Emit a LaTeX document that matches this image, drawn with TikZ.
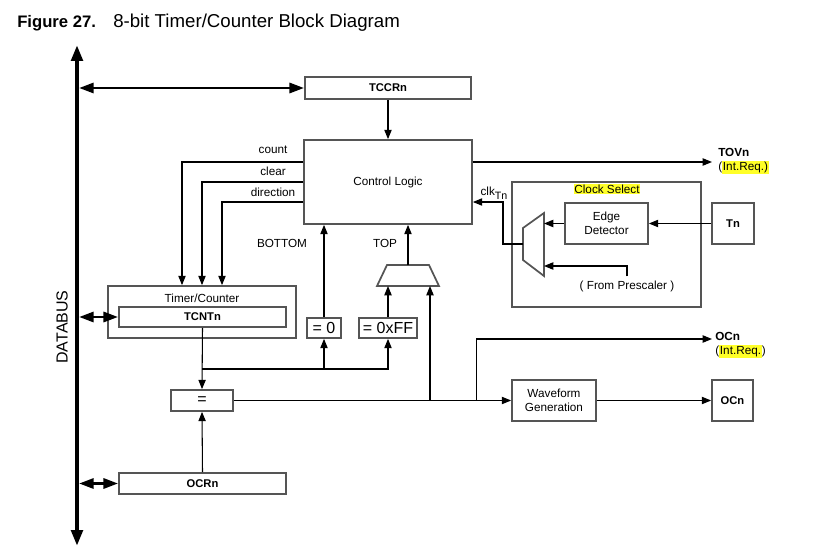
\documentclass[tikz,border=0pt]{standalone}
\usepackage{fontspec}
\setmainfont{Liberation Sans}
\usetikzlibrary{arrows.meta}

\definecolor{boxgray}{RGB}{85,85,85}
\definecolor{hlyellow}{RGB}{255,255,40}
\newcommand{\hlt}[1]{{\setlength{\fboxsep}{0.6pt}\colorbox{hlyellow}{#1}}}

\tikzset{
  every node/.style={font=\fontsize{8.8}{10.2}\selectfont, inner sep=0pt},
  box/.style={draw=boxgray, line width=1.3pt},
  wh/.style 2 args={minimum width=#1*0.75pt, minimum height=#2*0.75pt},
  reg/.style={font=\fontsize{8.4}{10}\selectfont\bfseries},
  big/.style={font=\fontsize{12}{14}\selectfont},
  wire/.style={line width=0.8pt, -{Triangle[length=7pt,width=5.5pt]}},
  bus/.style={line width=3pt, {Triangle[length=12pt,width=8.5pt]}-{Triangle[length=12pt,width=8.5pt]}},
  busarrow/.style={line width=2.2pt, {Triangle[length=11pt,width=7.5pt]}-{Triangle[length=11pt,width=7.5pt]}},
}

\begin{document}
\begin{tikzpicture}[x=0.75pt, y=-0.75pt]
\useasboundingbox (0,0) rectangle (836,560);

\node[anchor=base west, font=\fontsize{12.5}{14}\selectfont\bfseries] (fig) at (17,28) {Figure 27.};
\node[anchor=base west, font=\fontsize{14}{16}\selectfont] (caption) at (113,28) {8-bit Timer/Counter Block Diagram};

% data bus
\coordinate (bustop) at (77,45);
\coordinate (busbot) at (77,546);
\coordinate (busedge) at (79,0);
\draw[bus] (busbot) -- (bustop);
\node[rotate=90, big] (dbus) at (62,327) {DATABUS};

\node[box, wh={166}{22}, reg] (tccr) at (388,88) {TCCRn};
\node[box, wh={168}{84}] (ctrl) at (388,182) {Control Logic};
\node[box, wh={188}{52}] (tc) at (202,312) {};
\node (tclbl) at (202,298) {Timer/Counter};
\node[box, wh={167}{20}, reg] (tcnt) at (202.5,317) {TCNTn};
\node[box, wh={34}{20}, big] (eqz) at (324,328) {= 0};
\node[box, wh={58}{20}, big] (eqff) at (388,328) {= 0xFF};
\node[box, wh={62}{21}, big] (cmp) at (202,400.5) {=};
\node[box, wh={167}{21}, reg] (ocr) at (202.5,483.5) {OCRn};
\node[box, wh={84}{41}, align=center] (wave) at (554,400.5) {Waveform\\Generation};
\node[box, wh={41}{41}, reg] (ocn) at (732.5,400.5) {OCn};

\node[box, wh={189}{125}] (clksel) at (606.5,244.5) {};
\node (clklbl) at (607,189) {\hlt{Clock Select}};
\node[box, wh={83}{41}, align=center] (edgedet) at (606.5,223.5) {Edge\\Detector};
\node[box, wh={42}{41}, reg] (tn) at (733,223.5) {Tn};
\node[inner sep=3pt] (presc) at (627,286) {( From Prescaler )};

% multiplexers
\draw[box] (377,286) -- (387,265) -- (429,265) -- (439,286) -- cycle;
\coordinate (tmT) at (408,265);
\coordinate (tmA) at (388,286);
\coordinate (tmB) at (430,286);
\draw[box] (523,228) -- (544,213) -- (544,276) -- (523,260) -- cycle;
\coordinate (cmL) at (523,244);
\coordinate (cmR) at (544,244);

\draw[busarrow] (busedge |- tccr.west) -- (tccr.west);
\draw[busarrow] (busedge |- tcnt.west) -- (tcnt.west);
\draw[busarrow] (busedge |- ocr.west) -- (ocr.west);

\draw[wire] (tccr.south) -- (ctrl.north);
\draw[wire] ([yshift=15pt]ctrl.west) -| ([xshift=-15pt]tc.north);
\draw[wire] (ctrl.west) -| (tc.north);
\draw[wire] ([yshift=-15pt]ctrl.west) -| ([xshift=15pt]tc.north);
\node (lcount) at (273,150) {count};
\node (lclear) at (273,171) {clear};
\node (ldir) at (273,192) {direction};

\draw[wire] (eqz.north) -- (eqz.north |- ctrl.south);
\draw[wire] (tmT) -- (tmT |- ctrl.south);
\node (lbot) at (282,243) {BOTTOM};
\node (ltop) at (385,243) {TOP};
\draw[wire] (eqff.north) -- (tmA);
\draw[wire] (tmB |- cmp.east) -- (tmB);

\draw[wire] (tcnt.south) -- (cmp.north);
\coordinate (split) at (202,369);
\draw[wire] (split) -| (eqz.south);
\draw[wire] (split) -| (eqff.south);
\draw[wire] (ocr.north) -- (cmp.south);
\draw[wire] (cmp.east) -- (wave.west);
\draw[wire] (wave.east) -- (ocn.west);

\coordinate (ocint) at (712,339);
\draw[wire] ([xshift=-35*0.75pt]wave.west) |- (ocint);
\node[anchor=west, align=left] (ocnlbl) at (715,345) {{\bfseries OCn}\\(\hlt{Int.Req.})};

\coordinate (tov) at (712,162);
\draw[wire] ([yshift=15pt]ctrl.east) -- (tov);
\node[anchor=west, align=left] (tovlbl) at (718,161) {{\bfseries TOVn}\\(\hlt{Int.Req.)}};

\draw[wire] (tn.west) -- (edgedet.east);
\draw[wire] (edgedet.west) -- (edgedet.west -| cmR);
\draw[wire] (presc.north) |- ([yshift=-22*0.75pt]cmR);
\draw[wire] (cmL) -- ++(-20,0) |- ([yshift=-15pt]ctrl.east);
\node (clk) at (494,193) {clk\raisebox{-3pt}{\fontsize{8}{9}\selectfont Tn}};

\end{tikzpicture}
\end{document}
